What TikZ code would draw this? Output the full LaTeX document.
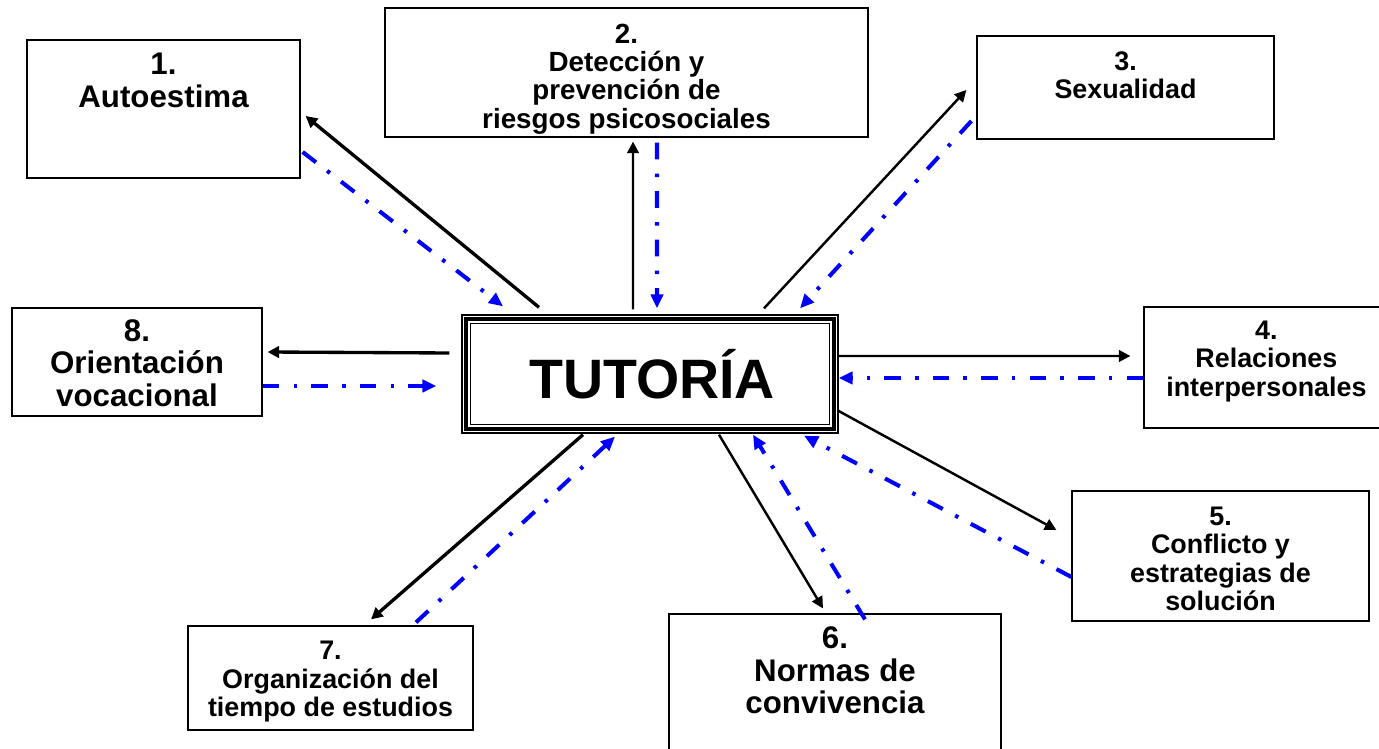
\documentclass[tikz,border=0pt]{standalone}
\usepackage{fontspec}
\setmainfont{Liberation Sans}
\usetikzlibrary{calc,fit,arrows.meta}

\begin{document}
\begin{tikzpicture}[x=0.02cm, y=-0.02cm,
    box/.style={draw, line width=0.7pt, inner sep=0pt},
    txtS/.style={align=center, font=\fontsize{15.3}{16.2}\selectfont\bfseries},
    txtL/.style={align=center, font=\fontsize{17.8}{18.6}\selectfont\bfseries},
    ida/.style={draw, line width=1.4pt, -{Triangle[length=6.6pt,width=6.6pt]}},
    idagruesa/.style={ida, line width=1.9pt},
    vuelta/.style={draw=blue, line width=2.3pt, dash pattern=on 9.6pt off 8pt on 2pt off 8pt,
      -{Triangle[length=8pt,width=7pt]}}]
  \useasboundingbox (0,0) rectangle (1379,749);

  % centro
  \node[box, line width=0.75pt, fit={(462,315) (838,433)}] (tut) {};
  \draw[line width=2pt] ($(tut.north west)+(4.5,4.5)$) rectangle ($(tut.south east)+(-4.5,-4.5)$);
  \draw[line width=0.75pt] ($(tut.north west)+(9,9)$) rectangle ($(tut.south east)+(-9,-9)$);
  \node[font=\fontsize{31.6}{36}\selectfont\bfseries] (tt) at ($(tut.center)+(2,0)$) {TUTORÍA};

  % temas
  \node[box, fit={(27,40) (300,178)}] (b1) {};
  \node[box, fit={(385,8) (868,137)}] (b2) {};
  \node[box, fit={(977,36) (1274,139)}] (b3) {};
  \node[box, fit={(1144,307) (1400,428)}] (b4) {};
  \node[box, fit={(1072,491) (1369,621)}] (b5) {};
  \node[box, fit={(669,614) (1001,760)}] (b6) {};
  \node[box, fit={(188,626) (473,730)}] (b7) {};
  \node[box, fit={(12,308) (262,416)}] (b8) {};

  \node[txtL] (t1) at ($(b1.north)+(0,41)$) {1.\\Autoestima};
  \node[txtS, font=\fontsize{15.8}{16.2}\selectfont\bfseries] (t2) at ($(b2.center)+(0,6.5)$)
    {2.\\Detección y\\prevención de\\riesgos psicosociales};
  \node[txtS] (t3) at ($(b3.north)+(0,40)$) {3.\\Sexualidad};
  \node[txtS] (t4) at ($(b4.west)+(123,-6)$) {4.\\Relaciones\\interpersonales};
  \node[txtS] (t5) at ($(b5.center)+(0,3)$) {5.\\Conflicto y\\estrategias de\\solución};
  \node[txtL] (t6) at ($(b6.north)+(0,57)$) {6.\\Normas de\\convivencia};
  \node[txtS] (t7) at ($(b7.center)+(0,4)$) {7.\\Organización del\\tiempo de estudios};
  \node[txtL] (t8) at ($(b8.center)+(0,1)$) {8.\\Orientación\\vocacional};

  % flechas de ida y vuelta
  \draw[idagruesa] ($(tut.north)+(-111,-7)$) -- ($(b1.east)+(5,7)$);
  \draw[vuelta] ($(b1.east)+(2,43)$) -- ($(tut.north)+(-147,-8)$);
  \draw[ida] ($(tut.north)+(-17,-5)$) -- ($(b2.south)+(6.5,4)$);
  \draw[vuelta] ($(b2.south)+(30.5,5)$) -- ($(tut.north)+(7,-6)$);
  \draw[ida] ($(tut.north)+(114,-6)$) -- ($(b3.west)+(-10,2.5)$);
  \draw[vuelta] ($(b3.west)+(-5,33.5)$) -- ($(tut.north)+(150,-6)$);
  \draw[ida] ($(tut.east)+(0,-18)$) -- ($(b4.west)+(-13,-11.5)$);
  \draw[vuelta] ($(b4.west)+(0,10.5)$) -- ($(tut.east)+(0,4)$);
  \draw[ida] ($(tut.east)+(0,37)$) -- ($(b5.west)+(-15,-26)$);
  \draw[vuelta] ($(b5.west)+(0,21)$) -- ($(tut.south)+(154,2)$);
  \draw[ida] ($(tut.south)+(69,1)$) -- ($(b6.north)+(-12,-5)$);
  \draw[vuelta] ($(b6.north)+(30,6)$) -- ($(tut.south)+(103,1)$);
  \draw[idagruesa] ($(tut.south)+(-67,1)$) -- ($(b7.north)+(40.5,-6)$);
  \draw[vuelta] ($(b7.north)+(85.5,-3)$) -- ($(tut.south)+(-35,3)$);
  \draw[idagruesa] ($(tut.west)+(-12,-21)$) -- ($(b8.east)+(5,-10)$);
  \draw[vuelta] ($(b8.east)+(0,24)$) -- ($(tut.west)+(-25,12)$);
\end{tikzpicture}
\end{document}
